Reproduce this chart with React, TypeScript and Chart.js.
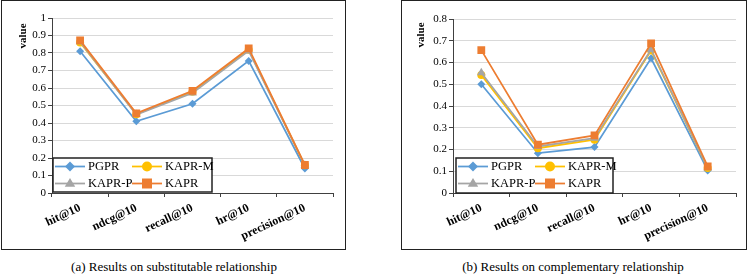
import React, { useEffect, useRef } from 'react';
import { Chart, registerables } from 'chart.js';

Chart.register(...registerables);

const categories = ['hit@10', 'ndcg@10', 'recall@10', 'hr@10', 'precision@10'];
const seriesNames = ['PGPR', 'KAPR-M', 'KAPR-P', 'KAPR'];
const seriesColors = ['#5B9BD5', '#FFC000', '#A5A5A5', '#ED7D31'];
const seriesMarkers = ['rectRot', 'circle', 'triangle', 'rect'];
const markerRadius = [4, 4, 5, 5.5];

// (a) substitutable relationship
const subPGPR = [0.81, 0.41, 0.51, 0.755, 0.14];
const subKAPRM = [0.86, 0.45, 0.578, 0.818, 0.158];
const subKAPRP = [0.865, 0.448, 0.572, 0.812, 0.158];
const subKAPR = [0.872, 0.455, 0.584, 0.826, 0.16];

// (b) complementary relationship
const compPGPR = [0.5, 0.183, 0.211, 0.619, 0.104];
const compKAPRM = [0.543, 0.206, 0.245, 0.655, 0.115];
const compKAPRP = [0.553, 0.214, 0.252, 0.66, 0.116];
const compKAPR = [0.657, 0.222, 0.265, 0.688, 0.122];

const captionA = '(a) Results on substitutable relationship';
const captionB = '(b) Results on complementary relationship';

const FONT = '"Liberation Serif", "Times New Roman", serif';

function drawMarker(ctx: CanvasRenderingContext2D, shape: string, x: number, y: number, r: number) {
  ctx.beginPath();
  if (shape === 'rectRot') {
    ctx.moveTo(x, y - r);
    ctx.lineTo(x + r, y);
    ctx.lineTo(x, y + r);
    ctx.lineTo(x - r, y);
    ctx.closePath();
  } else if (shape === 'circle') {
    ctx.arc(x, y, r, 0, Math.PI * 2);
  } else if (shape === 'triangle') {
    ctx.moveTo(x, y - r);
    ctx.lineTo(x + r * 0.95, y + r * 0.6);
    ctx.lineTo(x - r * 0.95, y + r * 0.6);
    ctx.closePath();
  } else {
    ctx.rect(x - r, y - r, 2 * r, 2 * r);
  }
  ctx.fill();
}

const extrasPlugin = {
  id: 'extras',
  afterDraw(chart: any, _args: any, opts: any) {
    const ctx: CanvasRenderingContext2D = chart.ctx;
    ctx.save();
    ctx.translate(opts.titleX, opts.titleY);
    ctx.rotate(-Math.PI / 2);
    ctx.font = `bold 11px ${FONT}`;
    ctx.fillStyle = '#000';
    ctx.textAlign = 'center';
    ctx.textBaseline = 'middle';
    ctx.fillText('value', 0, 0);
    ctx.restore();

    const { x, y, w, h } = opts.legend;
    ctx.save();
    ctx.fillStyle = '#fff';
    ctx.fillRect(x, y, w, h);
    ctx.strokeStyle = '#222';
    ctx.lineWidth = 1.5;
    ctx.strokeRect(x, y, w, h);
    seriesNames.forEach((name, i) => {
      const col = i % 2;
      const row = Math.floor(i / 2);
      const lx = x + 2 + col * 77;
      const ly = y + 8.5 + row * 17;
      ctx.strokeStyle = seriesColors[i];
      ctx.lineWidth = 1.75;
      ctx.beginPath();
      ctx.moveTo(lx, ly);
      ctx.lineTo(lx + 30, ly);
      ctx.stroke();
      ctx.fillStyle = seriesColors[i];
      const rr = [5, 5, 5.5, 5][i];
      drawMarker(ctx, seriesMarkers[i], lx + 15, ly, rr);
      ctx.fillStyle = '#000';
      ctx.font = `12.5px ${FONT}`;
      ctx.textAlign = 'left';
      ctx.textBaseline = 'middle';
      ctx.fillText(name, lx + 33, ly + 0.5);
    });
    ctx.restore();
  },
};

type PanelProps = {
  series: number[][];
  yMax: number;
  leftW: number;
  rightPad: number;
  topPad: number;
  titleX: number;
  titleY: number;
  legend: { x: number; y: number; w: number; h: number };
};

function Panel(p: PanelProps) {
  const ref = useRef<HTMLCanvasElement>(null);
  useEffect(() => {
    if (!ref.current) return;
    const datasets = p.series.map((vals, i) => ({
      label: seriesNames[i],
      data: vals,
      borderColor: seriesColors[i],
      backgroundColor: seriesColors[i],
      borderWidth: 1.75,
      pointStyle: seriesMarkers[i] as any,
      pointRadius: markerRadius[i],
      pointBorderWidth: 0,
      pointBackgroundColor: seriesColors[i],
      tension: 0,
      order: 4 - i,
    }));
    const chart = new Chart(ref.current, {
      type: 'line',
      data: { labels: categories, datasets },
      plugins: [extrasPlugin as any],
      options: {
        animation: false,
        responsive: false,
        maintainAspectRatio: false,
        layout: { padding: { left: 0, right: p.rightPad, top: p.topPad, bottom: 0 } },
        plugins: {
          legend: { display: false },
          tooltip: { enabled: false },
          extras: { titleX: p.titleX, titleY: p.titleY, legend: p.legend },
        } as any,
        scales: {
          x: {
            offset: true,
            grid: {
              display: true,
              drawOnChartArea: false,
              drawTicks: true,
              tickLength: 4,
              offset: true,
              color: '#404040',
            },
            border: { color: '#404040', width: 1 },
            ticks: {
              font: { family: FONT, size: 12, weight: 'bold' },
              color: '#000',
              minRotation: 25,
              maxRotation: 25,
              autoSkip: false,
              padding: 4,
            },
            afterFit: (s: any) => {
              s.height = 57;
            },
          },
          y: {
            min: 0,
            max: p.yMax,
            ticks: {
              stepSize: 0.1,
              font: { family: FONT, size: 11 },
              color: '#000',
              padding: 2,
              callback: (v: any) => String(Number(Number(v).toFixed(1))),
            },
            grid: { color: '#d9d9d9', tickColor: '#404040', tickLength: 4, lineWidth: 1 },
            border: { color: '#404040', width: 1 },
            afterFit: (s: any) => {
              s.width = p.leftW;
            },
          },
        },
      } as any,
    });
    return () => chart.destroy();
  }, []);
  return <canvas ref={ref} width={374} height={250} style={{ display: 'block', width: 374, height: 250 }} />;
}

export default function App() {
  const boxStyle: React.CSSProperties = {
    position: 'absolute',
    border: '1.5px solid #222',
    boxSizing: 'border-box',
  };
  const capStyle: React.CSSProperties = {
    position: 'absolute',
    top: 259,
    width: 374,
    textAlign: 'center',
    fontFamily: FONT,
    fontSize: 13,
    lineHeight: '16px',
    color: '#000',
    whiteSpace: 'nowrap',
  };
  return (
    <div style={{ position: 'absolute', left: 0, top: 0, width: 748, height: 278, background: '#fff', overflow: 'hidden' }}>
      <div style={{ ...boxStyle, left: 1, top: 0, width: 345, height: 250 }} />
      <div style={{ ...boxStyle, left: 401, top: 0, width: 346, height: 250 }} />
      <div style={{ position: 'absolute', left: 0, top: 0 }}>
        <Panel
          series={[subPGPR, subKAPRM, subKAPRP, subKAPR]}
          yMax={1}
          leftW={52}
          rightPad={41}
          topPad={18}
          titleX={23}
          titleY={36}
          legend={{ x: 53, y: 158, w: 159, h: 34 }}
        />
      </div>
      <div style={{ position: 'absolute', left: 374, top: 0 }}>
        <Panel
          series={[compPGPR, compKAPRM, compKAPRP, compKAPR]}
          yMax={0.8}
          leftW={79}
          rightPad={12}
          topPad={19}
          titleX={47}
          titleY={35}
          legend={{ x: 82, y: 158, w: 157, h: 35 }}
        />
      </div>
      <div style={{ ...capStyle, left: -13 }}>{captionA}</div>
      <div style={{ ...capStyle, left: 386 }}>{captionB}</div>
    </div>
  );
}
